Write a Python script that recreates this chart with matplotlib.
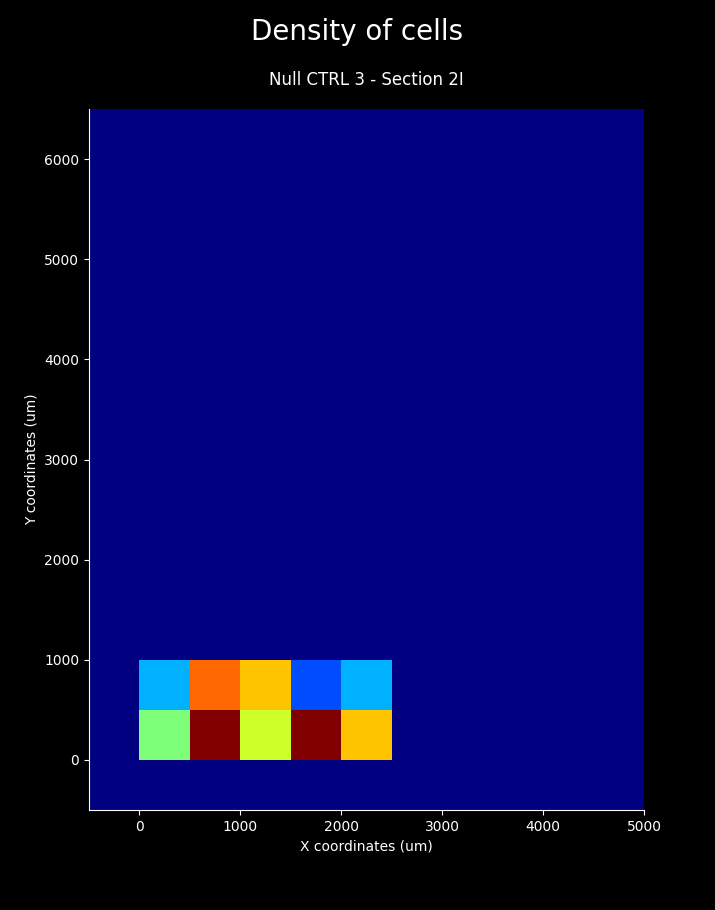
import numpy as np
import matplotlib
matplotlib.use("Agg")
import matplotlib.pyplot as plt

# bin edges of the density grid (um)
x_edges = np.arange(-500, 5001, 500)
y_edges = np.arange(-500, 6501, 500)

# non-empty bins: lower-left corners and counts
cell_x = [0, 500, 1000, 1500, 2000, 0, 500, 1000, 1500, 2000]
cell_y = [0, 0, 0, 0, 0, 500, 500, 500, 500, 500]
cell_count = [5, 10, 6, 10, 7, 3, 8, 7, 2, 3]

grid = np.zeros((len(y_edges) - 1, len(x_edges) - 1))
for cx, cy, c in zip(cell_x, cell_y, cell_count):
    i = np.searchsorted(y_edges, cy, side="right") - 1
    j = np.searchsorted(x_edges, cx, side="right") - 1
    grid[i, j] = c

plt.style.use("dark_background")
fig = plt.figure(figsize=(7.15, 9.1), dpi=100)
ax = fig.add_axes([0.1245, 0.1099, 0.7762, 0.7703])

ax.pcolormesh(x_edges, y_edges, grid, cmap="jet", vmin=0, vmax=max(cell_count))
ax.set_xlim(-500, 5000)
ax.set_ylim(-500, 6500)
ax.set_xticks(np.arange(0, 5001, 1000))
ax.set_yticks(np.arange(0, 6001, 1000))

ax.spines["top"].set_visible(False)
ax.spines["right"].set_visible(False)

ax.set_xlabel("X coordinates (um)")
ax.set_ylabel("Y coordinates (um)")
ax.set_title("Null CTRL 3 - Section 2I", fontsize=12, pad=17.5)
fig.suptitle("Density of cells", fontsize=20, y=0.98)

fig.savefig("out.png", dpi=100, facecolor="black")
